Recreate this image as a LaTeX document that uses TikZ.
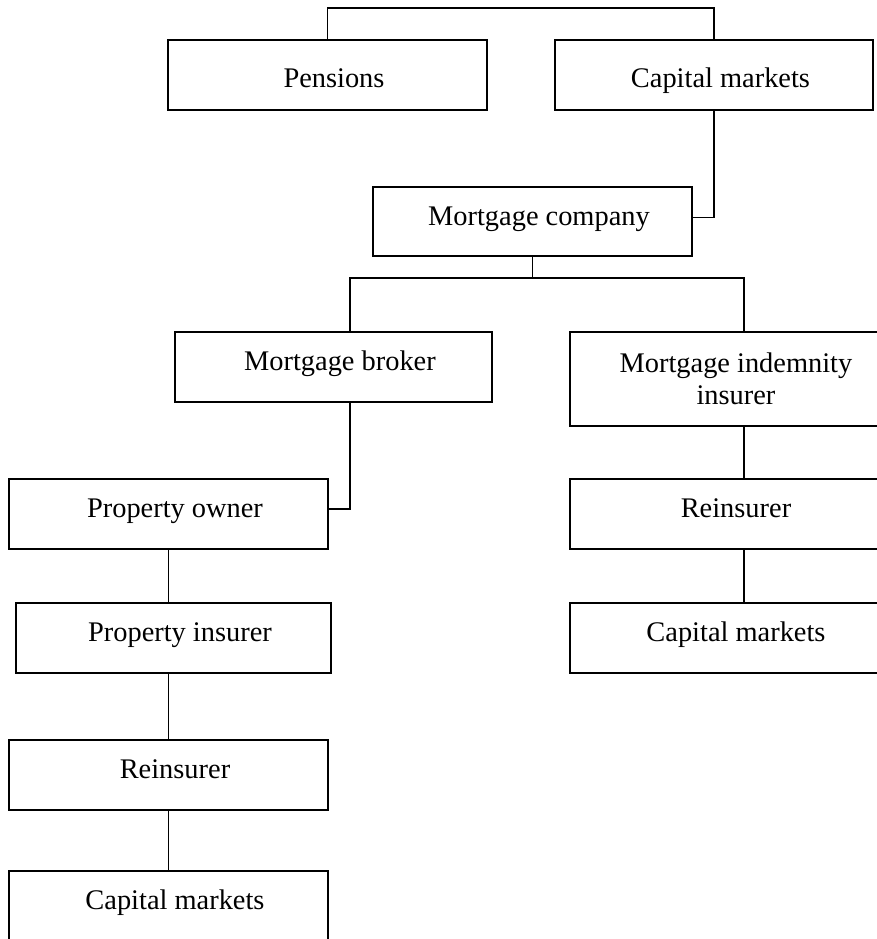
\documentclass[tikz,border=0pt]{standalone}
\usepackage{fontspec}
\setmainfont{Liberation Serif}
\begin{document}
\begin{tikzpicture}
        [x=0.5pt, y=-0.5pt,
        box/.style={rectangle, draw, line width=0.9pt, minimum width=159.5pt, minimum height=35pt, inner sep=0pt,
            text height=10pt, text depth=6.5pt, font=\fontsize{14.2}{16}\selectfont,
            execute at begin node={\hspace*{6.5pt}}},
        link/.style={line width=0.9pt, black}]

        \clip (0,0) rectangle (877,939);

        % top row
        \node[box, text height=19pt] (pens) at (327.5,75) {Pensions};
        \node[box, text height=19pt, minimum width=159pt] (capT) at (714,75) {Capital markets};
        \node[box, minimum height=34.5pt] (mco) at (532.5,221.5) {Mortgage company};

        % middle
        \node[box, minimum width=158.5pt] (mbr) at (333.5,367) {Mortgage broker};
        \node[box, minimum height=47pt, text height=, text depth=, align=center] (mii) at (729.5,379) {Mortgage indemnity\\insurer};

        % right column
        \node[box] (reR) at (729.5,514) {Reinsurer};
        \node[box] (capR) at (729.5,638) {Capital markets};

        % left column
        \node[box] (pown) at (168.5,514) {Property owner};
        \node[box, minimum width=157.5pt] (pins) at (173.5,638) {Property insurer};
        \node[box] (reL) at (168.5,775) {Reinsurer};
        \node[box] (capL) at (168.5,906) {Capital markets};

        \coordinate (fork) at (532.5,278);

        \draw[link] (pens.north) |- (capT.north |- 0,8) -- (capT.north);
        \draw[link] (capT.south) |- ([yshift=2pt]mco.east);
        \draw[link] (mco.south) -- (fork);
        \draw[link] ([xshift=8.25pt]mbr.north) |- (fork) -| ([xshift=7.25pt]mii.north);
        \draw[link] ([xshift=8.25pt]mbr.south) |- ([yshift=2.5pt]pown.east);

        \draw[link] (pown.south) -- (pown.south |- pins.north);
        \draw[link] (reL.north |- pins.south) -- (reL.north);
        \draw[link] (reL.south) -- (capL.north);

        \draw[link] ([xshift=7.25pt]mii.south) -- ([xshift=7.25pt]reR.north);
        \draw[link] ([xshift=7.25pt]reR.south) -- ([xshift=7.25pt]capR.north);
    \end{tikzpicture}
\end{document}
